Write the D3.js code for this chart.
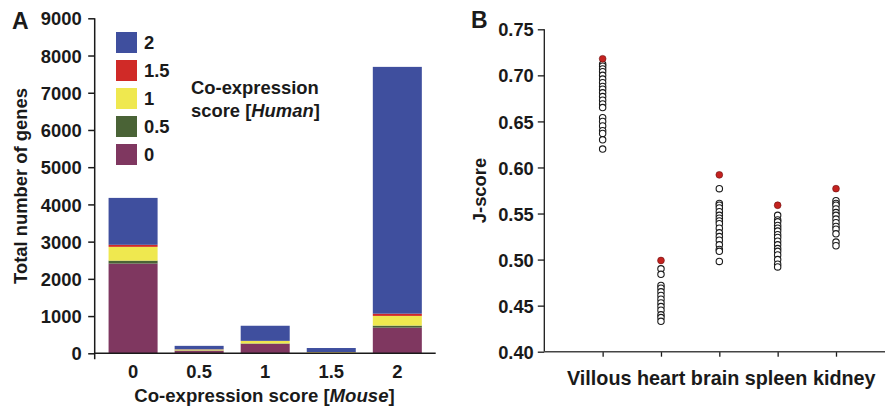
<!DOCTYPE html>
<html><head><meta charset="utf-8">
<script src="https://cdn.jsdelivr.net/npm/d3@7"></script>
<style>
body{margin:0;background:#fff;}
svg{display:block;font-family:"Liberation Sans",Arial,Helvetica,sans-serif;font-weight:bold;}
</style></head>
<body><svg id="c" width="885" height="410"></svg>
<script>
// ---------- Panel A data ----------
const mouseScores = ["0", "0.5", "1", "1.5", "2"];
const humanScores = ["0", "0.5", "1", "1.5", "2"];            // stack order bottom -> top
const humanScore0  = [2410, 70, 255, 15, 690];
const humanScore05 = [80, 7, 10, 3, 55];
const humanScore1  = [370, 25, 65, 15, 260];
const humanScore15 = [55, 5, 5, 2, 60];
const humanScore2  = [1260, 93, 405, 107, 6630];
const countTicks = [0, 1000, 2000, 3000, 4000, 5000, 6000, 7000, 8000, 9000];
const stackColors = ["#7f3760", "#4a6336", "#efe84f", "#d02a27", "#3f4f9e"];

// ---------- Panel B data ----------
const tissues = ["Villous", "heart", "brain", "spleen", "kidney"];
const topJ = [0.718, 0.499, 0.592, 0.559, 0.577];
const villousJ = [0.712,0.710,0.707,0.704,0.700,0.696,0.692,0.688,0.685,0.681,0.677,0.673,0.669,0.665,0.654,0.650,0.645,0.640,0.637,0.630,0.620];
const heartJ = [0.490,0.484,0.472,0.469,0.465,0.461,0.457,0.453,0.449,0.445,0.440,0.437,0.433];
const brainJ = [0.577,0.561,0.559,0.556,0.552,0.548,0.545,0.542,0.539,0.534,0.529,0.525,0.521,0.516,0.511,0.509,0.498];
const spleenJ = [0.548,0.543,0.541,0.537,0.534,0.531,0.527,0.524,0.520,0.516,0.512,0.509,0.505,0.500,0.495,0.492];
const kidneyJ = [0.564,0.561,0.559,0.555,0.551,0.548,0.544,0.540,0.536,0.533,0.528,0.519,0.515];
const jTicks = [0.40, 0.45, 0.50, 0.55, 0.60, 0.65, 0.70, 0.75];

const svg = d3.select("#c");
const ink = "#1a1a1a";
const FS = 18.4;

// ================= Panel A =================
const A = {x0: 94.7, x1: 435.7, y0: 353.3, y1: 18.3};
const xA = d3.scaleBand().domain(mouseScores).range([A.x0, A.x1]).paddingInner(0.258).paddingOuter(0.21);
const yA = d3.scaleLinear().domain([0, 9000]).range([A.y0, A.y1]);

const series = [humanScore0, humanScore05, humanScore1, humanScore15, humanScore2];
const rows = mouseScores.map((m, i) => {
  const r = {mouse: m};
  humanScores.forEach((h, j) => r[h] = series[j][i]);
  return r;
});
const stacked = d3.stack().keys(humanScores)(rows);
const gA = svg.append("g");
gA.selectAll("g.layer").data(stacked).join("g")
  .attr("fill", (d, i) => stackColors[i])
  .selectAll("rect").data(d => d).join("rect")
  .attr("x", d => xA(d.data.mouse))
  .attr("width", xA.bandwidth())
  .attr("y", d => yA(d[1]))
  .attr("height", d => yA(d[0]) - yA(d[1]));

// y axis A
const yAxisA = gA.append("g").attr("transform", `translate(${A.x0},0)`)
  .call(d3.axisLeft(yA).tickValues(countTicks).tickFormat(d3.format("d")).tickSize(6.5).tickPadding(6.5));
yAxisA.select(".domain").remove();
yAxisA.selectAll("line").attr("stroke", ink).attr("stroke-width", 1.5);
yAxisA.selectAll("text").attr("font-size", FS).attr("fill", ink).attr("dy", "0.36em").attr("font-family", null);
gA.append("line").attr("x1", A.x0).attr("x2", A.x0).attr("y1", A.y1).attr("y2", A.y0 + 6)
  .attr("stroke", ink).attr("stroke-width", 1.5);
// x axis A
const xAxisA = gA.append("g").attr("transform", `translate(0,${A.y0})`)
  .call(d3.axisBottom(xA).tickSize(0).tickPadding(11.5));
xAxisA.select(".domain").remove();
xAxisA.selectAll("text").attr("font-size", FS).attr("fill", ink).attr("dy", "0.71em").attr("font-family", null);
gA.append("line").attr("x1", A.x0).attr("x2", A.x1).attr("y1", A.y0).attr("y2", A.y0)
  .attr("stroke", ink).attr("stroke-width", 1.5);

// titles A
const xtA = gA.append("text").attr("x", 264.5).attr("y", 401.5).attr("text-anchor", "middle").attr("font-size", 18.6).attr("fill", ink);
xtA.append("tspan").text("Co-expression score [");
xtA.append("tspan").attr("font-style", "italic").text("Mouse");
xtA.append("tspan").text("]");
gA.append("text").attr("transform", "translate(26.5,186) rotate(-90)").attr("text-anchor", "middle")
  .attr("font-size", 18.4).attr("fill", ink).text("Total number of genes");
gA.append("text").attr("x", 12).attr("y", 28.5).attr("font-size", 23).attr("fill", ink).text("A");

// legend A (top entry = 2)
const legA = gA.append("g");
const legItems = humanScores.slice().reverse();
legItems.forEach((h, i) => {
  const yy = 32 + i * 28;
  legA.append("rect").attr("x", 116).attr("y", yy).attr("width", 21).attr("height", 21)
    .attr("fill", stackColors[humanScores.indexOf(h)]);
  legA.append("text").attr("x", 144).attr("y", yy + 17).attr("font-size", FS).attr("fill", ink).text(h);
});
gA.append("text").attr("x", 191).attr("y", 94).attr("font-size", FS).attr("fill", ink).text("Co-expression");
const ann2 = gA.append("text").attr("x", 191).attr("y", 116.5).attr("font-size", FS).attr("fill", ink);
ann2.append("tspan").text("score [");
ann2.append("tspan").attr("font-style", "italic").text("Human");
ann2.append("tspan").text("]");

// ================= Panel B =================
const B = {x0: 544.3, x1: 885, y0: 351.7, y1: 29.3};
const xB = d3.scaleLinear().domain([0, 5.84]).range([B.x0, B.x1]);
const yB = d3.scaleLinear().domain([0.40, 0.75]).range([B.y0, B.y1]);
const gB = svg.append("g");

const yAxisB = gB.append("g").attr("transform", `translate(${B.x0},0)`)
  .call(d3.axisLeft(yB).tickValues(jTicks).tickFormat(d3.format(".2f")).tickSize(6.5).tickPadding(4));
yAxisB.select(".domain").remove();
yAxisB.selectAll("line").attr("stroke", ink).attr("stroke-width", 1.3);
yAxisB.selectAll("text").attr("font-size", 18.3).attr("fill", ink).attr("dy", "0.36em").attr("font-family", null);
gB.append("line").attr("x1", B.x0).attr("x2", B.x0).attr("y1", B.y1).attr("y2", B.y0)
  .attr("stroke", ink).attr("stroke-width", 1.3);

const xAxisB = gB.append("g").attr("transform", `translate(0,${B.y0})`)
  .call(d3.axisBottom(xB).tickValues([1, 2, 3, 4, 5]).tickFormat("").tickSize(5));
xAxisB.select(".domain").remove();
xAxisB.selectAll("line").attr("stroke", ink).attr("stroke-width", 1.3);
gB.append("line").attr("x1", B.x0).attr("x2", B.x1).attr("y1", B.y0).attr("y2", B.y0)
  .attr("stroke", "#444").attr("stroke-width", 1.5);

const groups = [villousJ, heartJ, brainJ, spleenJ, kidneyJ];
groups.forEach((vals, i) => {
  gB.selectAll(null).data(vals).join("circle")
    .attr("cx", xB(i + 1)).attr("cy", d => yB(d)).attr("r", 3.2)
    .attr("fill", "#fff").attr("stroke", ink).attr("stroke-width", 1.1);
});
gB.selectAll(null).data(topJ).join("circle")
  .attr("cx", (d, i) => xB(i + 1)).attr("cy", d => yB(d)).attr("r", 3.4)
  .attr("fill", "#c4221f").attr("stroke", "#6a1010").attr("stroke-width", 0.6);

gB.append("text").attr("x", 721.3).attr("y", 384.5).attr("text-anchor", "middle")
  .attr("font-size", 19.8).attr("fill", ink).text(tissues.join(" "));
gB.append("text").attr("transform", "translate(485.5,190.5) rotate(-90)").attr("text-anchor", "middle")
  .attr("font-size", 18.4).attr("fill", ink).text("J-score");
gB.append("text").attr("x", 471).attr("y", 27.5).attr("font-size", 23).attr("fill", ink).text("B");
</script></body></html>
